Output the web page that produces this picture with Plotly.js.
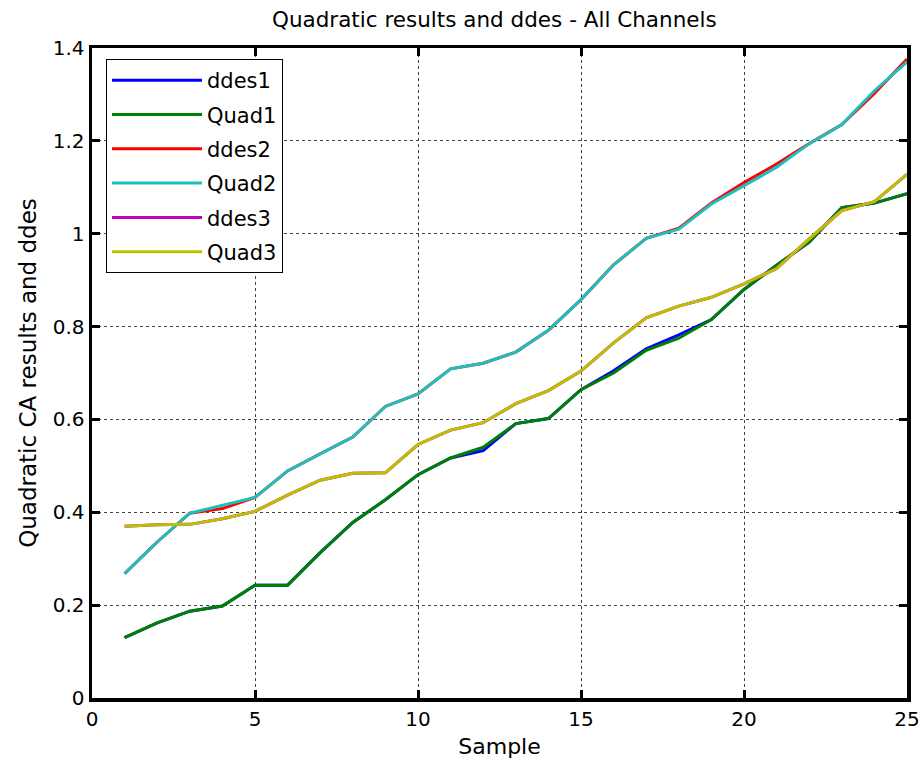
<!DOCTYPE html>
<html>
<head>
<meta charset="utf-8">
<script src="https://cdn.plot.ly/plotly-3.0.1.min.js"></script>
<style>html,body{margin:0;padding:0;background:#fff;}#chart{width:924px;height:767px;}</style>
</head>
<body>
<div id="chart"></div>
<script>
const samples = [1,2,3,4,5,6,7,8,9,10,11,12,13,14,15,16,17,18,19,20,21,22,23,24,25];
const ddes1 = [0.130,0.162,0.187,0.198,0.243,0.243,0.313,0.378,0.427,0.481,0.517,0.533,0.591,0.602,0.664,0.705,0.752,0.782,0.815,0.880,0.932,0.982,1.056,1.066,1.086];
const quad1 = [0.130,0.162,0.187,0.198,0.243,0.243,0.313,0.378,0.427,0.481,0.517,0.540,0.591,0.602,0.664,0.700,0.749,0.775,0.815,0.880,0.932,0.982,1.056,1.066,1.086];
const ddes2 = [0.268,0.336,0.398,0.408,0.432,0.489,0.526,0.562,0.628,0.655,0.709,0.721,0.745,0.792,0.858,0.933,0.990,1.012,1.066,1.110,1.150,1.194,1.235,1.302,1.376];
const quad2 = [0.268,0.336,0.398,0.415,0.432,0.489,0.526,0.562,0.628,0.655,0.709,0.721,0.745,0.792,0.858,0.933,0.990,1.010,1.064,1.103,1.143,1.194,1.235,1.308,1.370];
const ddes3 = [0.370,0.373,0.374,0.386,0.402,0.437,0.469,0.484,0.485,0.546,0.577,0.593,0.634,0.662,0.704,0.765,0.819,0.844,0.863,0.892,0.925,0.989,1.050,1.069,1.128];
const quad3 = [0.370,0.373,0.374,0.386,0.402,0.437,0.469,0.484,0.485,0.546,0.577,0.593,0.634,0.662,0.704,0.765,0.819,0.844,0.863,0.892,0.925,0.989,1.050,1.069,1.128];

const seriesNames = ['ddes1','Quad1','ddes2','Quad2','ddes3','Quad3'];
const seriesData = [ddes1, quad1, ddes2, quad2, ddes3, quad3];
const seriesColors = ['#0000ff','#008000','#ff0000','#1fbfbf','#bf00bf','#bfbf00'];

const traces = seriesNames.map((n, i) => ({
  x: samples, y: seriesData[i], name: n, type: 'scatter', mode: 'lines',
  line: {color: seriesColors[i], width: 3}, legendgroup: 'g' + i
}));

const font = "'DejaVu Sans', sans-serif";
const axisCommon = {
  showline: true, linecolor: '#000', linewidth: 3.5, mirror: 'ticks',
  ticks: 'inside', ticklen: 8, tickwidth: 3, tickcolor: '#000',
  showgrid: true, gridcolor: '#444', gridwidth: 1, griddash: '3px,3px',
  zeroline: false, tickfont: {family: font, size: 20, color: '#000'}
};

const layout = {
  width: 924, height: 767,
  margin: {l: 92, r: 17, t: 48, b: 69},
  paper_bgcolor: '#fff', plot_bgcolor: '#fff',
  title: {text: 'Quadratic results and ddes - All Channels', font: {family: font, size: 21.5, color: '#000'}, x: 0.535, xanchor: 'center', y: 0.974, yanchor: 'middle'},
  xaxis: Object.assign({}, axisCommon, {range: [0, 25], tickvals: [0,5,10,15,20,25],
    title: {text: 'Sample', font: {family: font, size: 22, color: '#000'}, standoff: 10}}),
  yaxis: Object.assign({}, axisCommon, {range: [0, 1.4], tickvals: [0,0.2,0.4,0.6,0.8,1,1.2,1.4],
    ticktext: ['0','0.2','0.4','0.6','0.8','1','1.2','1.4'],
    title: {text: 'Quadratic CA results and ddes', font: {family: font, size: 23, color: '#000'}, standoff: 10}}),
  showlegend: true,
  legend: {x: 0.0172, y: 0.983, xanchor: 'left', yanchor: 'top', bgcolor: '#fff', bordercolor: '#000', borderwidth: 1,
    font: {family: font, size: 21, color: '#000'}, itemwidth: 90, tracegroupgap: 4, traceorder: 'grouped'}
};

Plotly.newPlot('chart', traces, layout, {displayModeBar: false, staticPlot: true});
</script>
</body>
</html>
